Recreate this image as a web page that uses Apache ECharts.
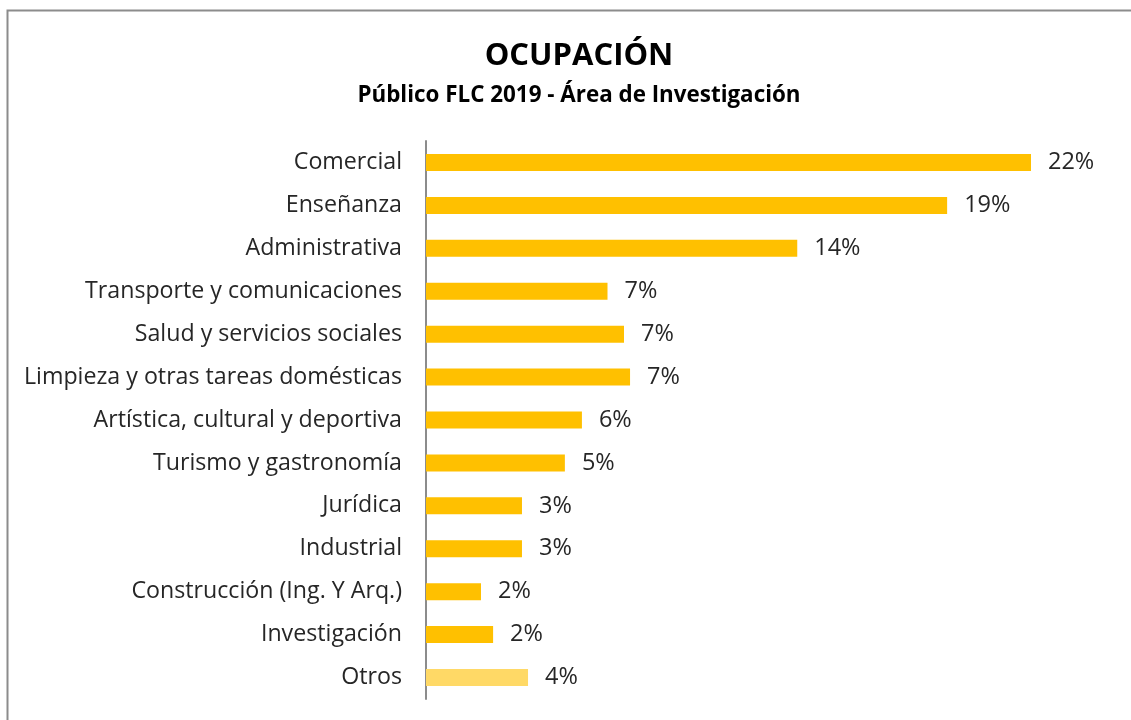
<!doctype html>
<html>
	<head>
		<meta charset="UTF-8">
		<title>Ocupación</title>
		<style>
			html, body{
				margin: 0;
				padding: 0;
				background: #fff;
			}
			#main{
				width: 1131px;
				height: 720px;
			}
		</style>
	</head>
	<body>
		<div id="main"></div>
		<script src="https://cdn.jsdelivr.net/npm/echarts@6/dist/echarts.min.js"></script>
		<script type="text/javascript">
			// datos (porcentaje)
			var categorias = ['Comercial', 'Enseñanza', 'Administrativa', 'Transporte y comunicaciones',
				'Salud y servicios sociales', 'Limpieza y otras tareas domésticas', 'Artística, cultural y deportiva',
				'Turismo y gastronomía', 'Jurídica', 'Industrial', 'Construcción (Ing. Y Arq.)', 'Investigación', 'Otros'];
			var valores = [22.0, 18.95, 13.5, 6.6, 7.2, 7.42, 5.67, 5.05, 3.49, 3.49, 2.0, 2.44, 3.71];
			var etiquetas = ['22%', '19%', '14%', '7%', '7%', '7%', '6%', '5%', '3%', '3%', '2%', '2%', '4%'];

			var font = '"Open Sans", "Noto Sans", sans-serif';

			var datos = [];
			for (var i = 0; i < valores.length; i++) {
				datos.push({
					value: valores[i],
					itemStyle: { color: categorias[i] == 'Otros' ? '#FFD966' : '#FFC000' }
				});
			}

			var chart = echarts.init(document.getElementById('main'));
			chart.setOption({
				animation: false,
				graphic: [{
					type: 'rect',
					shape: { x: 7.5, y: 10.5, width: 1200, height: 800 },
					style: { fill: 'none', stroke: '#8c8c8c', lineWidth: 2 }
				}],
				title: {
					text: 'OCUPACIÓN',
					subtext: 'Público FLC 2019 - Área de Investigación',
					left: 574,
					textAlign: 'center',
					top: 36,
					itemGap: 13,
					textStyle: { fontFamily: font, fontSize: 31, fontWeight: 'bold', color: '#000' },
					subtextStyle: { fontFamily: font, fontSize: 22.4, fontWeight: 'bold', color: '#000' }
				},
				grid: {
					left: 426,
					top: 141,
					width: 687.5,
					bottom: 21
				},
				xAxis: {
					type: 'value',
					min: 0,
					max: 25,
					show: false
				},
				yAxis: {
					type: 'category',
					inverse: true,
					data: categorias,
					axisLine: { show: true, lineStyle: { color: '#8c8c8c', width: 2 } },
					axisTick: { show: false },
					axisLabel: { fontFamily: font, fontSize: 23.2, color: '#262626', margin: 24, padding: [6, 0, 0, 0] }
				},
				series: [{
					type: 'bar',
					data: datos,
					barWidth: 17,
					label: {
						show: true,
						position: 'right',
						distance: 17,
						fontFamily: font,
						fontSize: 23.5,
						color: '#262626',
						padding: [6, 0, 0, 0],
						formatter: function (p) { return etiquetas[p.dataIndex]; }
					}
				}]
			});
		</script>
	</body>
</html>
